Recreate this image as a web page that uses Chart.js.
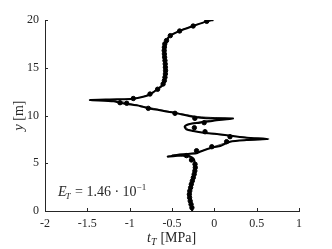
<!DOCTYPE html>
<html>
<head>
<meta charset="utf-8">
<script src="https://cdn.jsdelivr.net/npm/chart.js@4/dist/chart.umd.min.js"></script>
<style>
  html, body { margin: 0; padding: 0; background: #fff; }
  #wrap { width: 332px; height: 249px; }
</style>
</head>
<body>
<div id="wrap"><canvas id="chart"></canvas></div>
<script>
// ---------------------------
// Data
// ---------------------------
const xTicks = [-2, -1.5, -1, -0.5, 0, 0.5, 1];
const yTicks = [0, 5, 10, 15, 20];

// thick curve
const fitDepth = [20.0, 19.86, 19.37, 18.85, 18.36, 17.9, 17.2, 16.5, 15.8, 15.1, 14.6, 14.07, 13.54, 13.09, 12.74, 12.25, 11.97, 11.76, 11.69, 11.62,
  11.48, 11.31, 11.2, 11.0, 10.75, 10.3, 9.88, 9.72, 9.7, 9.46, 9.25, 9.11, 8.85, 8.55, 8.38, 8.2, 8.06, 7.85, 7.68, 7.54,
  7.43, 7.26, 6.8, 6.67, 6.21, 6.04, 5.93, 5.69, 5.83, 5.6, 5.41, 4.99, 4.47, 3.94, 3.25, 2.55, 1.85, 1.15, 0.63, 0.0];
const fitTraction = [-0.01, -0.09, -0.25, -0.41, -0.52, -0.56, -0.58, -0.59, -0.587, -0.58, -0.575, -0.58, -0.594, -0.62, -0.673, -0.75, -0.84, -0.96, -1.15, -1.47,
  -1.19, -1.11, -1.03, -0.88, -0.78, -0.48, -0.25, -0.09, 0.22, -0.01, -0.17, -0.29, -0.35, -0.33, -0.25, -0.13, 0.03, 0.22, 0.38, 0.64,
  0.38, 0.185, 0.07, -0.01, -0.17, -0.21, -0.41, -0.55, -0.33, -0.26, -0.24, -0.23, -0.224, -0.236, -0.256, -0.28, -0.295, -0.29, -0.276, -0.26];

// thin curve
const refDepth = [20.0, 19.37, 18.36, 17.2, 15.8, 14.6, 13.54, 12.74, 12.0, 11.72, 11.64, 11.55, 11.42, 11.25, 11.0, 10.3, 9.9, 9.78, 9.65, 9.5,
  9.3, 9.1, 8.85, 8.55, 8.3, 8.05, 7.82, 7.65, 7.5, 7.38, 7.2, 6.7, 6.15, 5.97, 5.85, 5.75, 5.62, 5.4, 4.5, 3.25, 1.85, 0.63, 0.0];
const refTraction = [-0.02, -0.26, -0.53, -0.585, -0.59, -0.58, -0.6, -0.68, -0.83, -1.0, -1.38, -1.2, -1.08, -1.0, -0.86, -0.46, -0.2, 0.0, 0.17, -0.05,
  -0.2, -0.3, -0.34, -0.31, -0.2, 0.0, 0.25, 0.45, 0.58, 0.3, 0.16, -0.02, -0.2, -0.36, -0.5, -0.4, -0.3, -0.245, -0.226, -0.258, -0.294, -0.275, -0.262];

// markers
const dotDepth = [19.86, 19.37, 18.85, 18.36, 17.85, 17.5, 17.15, 16.8, 16.45, 16.1, 15.75, 15.4, 15.05, 14.7, 14.35, 14.0, 13.65, 13.3,
  12.75, 12.25, 11.78, 11.34, 11.28, 10.75, 10.23, 9.7, 9.25, 8.72, 8.3, 7.78, 7.26, 6.73, 6.31, 5.8, 5.34,
  4.9, 4.55, 4.2, 3.85, 3.5, 3.15, 2.8, 2.45, 2.1, 1.75, 1.4, 1.05, 0.7, 0.35];
const dotTraction = [-0.09, -0.25, -0.41, -0.52, -0.565, -0.585, -0.59, -0.592, -0.59, -0.587, -0.583, -0.58, -0.578, -0.576, -0.578, -0.583, -0.59, -0.605,
  -0.67, -0.76, -0.957, -1.114, -1.035, -0.78, -0.465, -0.23, -0.12, -0.236, -0.11, 0.185, 0.145, -0.03, -0.21, -0.33, -0.27,
  -0.228, -0.225, -0.23, -0.238, -0.248, -0.26, -0.272, -0.28, -0.29, -0.295, -0.292, -0.285, -0.275, -0.265];

const toPoints = (xs, ys) => xs.map((x, i) => ({ x: x, y: ys[i] }));

const serif = '"Liberation Serif", "DejaVu Serif", serif';

// ---------------------------
// Inward ticks + math-style labels
// ---------------------------
const decorPlugin = {
  id: 'decor',
  afterDraw(chart) {
    const ctx = chart.ctx;
    const xs = chart.scales.x, ys = chart.scales.y;
    const area = chart.chartArea;
    ctx.save();
    ctx.strokeStyle = '#262626';
    ctx.lineWidth = 1;
    ctx.beginPath();
    xTicks.forEach(v => {
      const px = Math.round(xs.getPixelForValue(v)) + 0.5;
      ctx.moveTo(px, area.bottom);
      ctx.lineTo(px, area.bottom - 3);
    });
    yTicks.forEach(v => {
      const py = Math.round(ys.getPixelForValue(v)) + 0.5;
      ctx.moveTo(area.left, py);
      ctx.lineTo(area.left + 3, py);
    });
    ctx.stroke();

    ctx.fillStyle = '#262626';
    ctx.textBaseline = 'alphabetic';

    // x title: t_T [MPa]
    let cx = (area.left + area.right) / 2 - 25;
    let by = 242;
    ctx.font = 'italic 14px ' + serif;
    ctx.fillText('t', cx, by);
    cx += ctx.measureText('t').width;
    ctx.font = 'italic 10px ' + serif;
    ctx.fillText('T', cx, by + 3);
    cx += ctx.measureText('T').width + 4;
    ctx.font = '14px ' + serif;
    ctx.fillText('[MPa]', cx, by);

    // y title: y [m]
    ctx.save();
    ctx.translate(23, (area.top + area.bottom) / 2);
    ctx.rotate(-Math.PI / 2);
    ctx.textAlign = 'left';
    ctx.font = 'italic 14px ' + serif;
    const w1 = ctx.measureText('y').width;
    ctx.font = '14px ' + serif;
    const w2 = ctx.measureText(' [m]').width;
    let tx = -(w1 + w2) / 2;
    ctx.font = 'italic 14px ' + serif;
    ctx.fillText('y', tx, 0);
    ctx.font = '14px ' + serif;
    ctx.fillText(' [m]', tx + w1, 0);
    ctx.restore();

    // annotation: E_T = 1.46 · 10^-1
    cx = 58; by = 196;
    ctx.font = 'italic 14px ' + serif;
    ctx.fillText('E', cx, by);
    cx += ctx.measureText('E').width - 1;
    ctx.font = 'italic 9px ' + serif;
    ctx.fillText('T', cx, by + 3);
    cx += ctx.measureText('T').width + 1;
    ctx.font = '14px ' + serif;
    const mid = ' = 1.46 \u00b7 10';
    ctx.fillText(mid, cx, by);
    cx += ctx.measureText(mid).width;
    ctx.font = '9px ' + serif;
    ctx.fillText('\u22121', cx, by - 6);
    ctx.restore();
  }
};

// ---------------------------
// Chart
// ---------------------------
const ctx = document.getElementById('chart').getContext('2d');
const chart = new Chart(ctx, {
  type: 'scatter',
  data: {
    datasets: [
      {
        label: 'thin',
        data: toPoints(refTraction, refDepth),
        showLine: true,
        borderColor: '#444444',
        borderWidth: 1,
        pointRadius: 0,
        tension: 0.25,
        order: 3
      },
      {
        label: 'fit',
        data: toPoints(fitTraction, fitDepth),
        showLine: true,
        borderColor: '#000000',
        borderWidth: 2,
        pointRadius: 0,
        tension: 0.25,
        order: 2
      },
      {
        label: 'dots',
        data: toPoints(dotTraction, dotDepth),
        showLine: false,
        backgroundColor: '#000000',
        borderColor: '#000000',
        pointRadius: 2.2,
        order: 1
      }
    ]
  },
  options: {
    responsive: true,
    maintainAspectRatio: false,
    animation: false,
    layout: { padding: { left: 0, right: 33, top: 20, bottom: 0 } },
    plugins: {
      legend: { display: false },
      tooltip: { enabled: false }
    },
    scales: {
      x: {
        type: 'linear',
        min: -2,
        max: 1,
        afterBuildTicks: s => { s.ticks = xTicks.map(v => ({ value: v })); },
        afterFit: s => { s.height = 38; },
        ticks: {
          color: '#262626',
          padding: 6,
          maxRotation: 0,
          font: { family: serif, size: 12 },
          callback: v => String(v)
        },
        grid: { display: false, drawTicks: false },
        border: { display: true, color: '#262626', width: 1 }
      },
      y: {
        type: 'linear',
        min: 0,
        max: 20,
        afterBuildTicks: s => { s.ticks = yTicks.map(v => ({ value: v })); },
        afterFit: s => { s.width = 45; },
        ticks: {
          color: '#262626',
          padding: 6,
          font: { family: serif, size: 12 },
          callback: v => String(v)
        },
        grid: { display: false, drawTicks: false },
        border: { display: true, color: '#262626', width: 1 }
      }
    }
  },
  plugins: [decorPlugin]
});
</script>
</body>
</html>
